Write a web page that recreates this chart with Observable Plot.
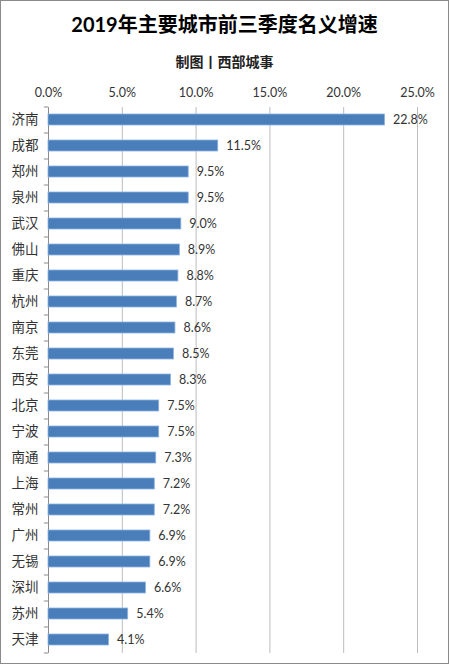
<!DOCTYPE html>
<html><head><meta charset="utf-8">
<script src="https://cdn.jsdelivr.net/npm/d3@7"></script>
<script src="https://cdn.jsdelivr.net/npm/@observablehq/plot@0.6"></script>
<style>
body{margin:0;background:#fff;}
#wrap{width:449px;height:664px;box-sizing:border-box;border:1px solid #8a8a8a;font-family:Lato,"Noto Sans CJK SC",sans-serif;overflow:hidden;}
#title{height:43px;padding-top:3px;line-height:40px;text-align:center;font-weight:bold;font-size:20px;color:#000;}
#sub{height:31px;line-height:30px;text-align:center;font-weight:bold;font-size:14px;color:#222;}
#chart svg{display:block;}
</style></head>
<body><div id="wrap"><div id="title">2019年主要城市前三季度名义增速</div><div id="sub">制图丨西部城事</div><div id="chart"></div></div>
<script>
const cities = ["济南","成都","郑州","泉州","武汉","佛山","重庆","杭州","南京","东莞","西安","北京","宁波","南通","上海","常州","广州","无锡","深圳","苏州","天津"];
const values = [22.8,11.5,9.5,9.5,9.0,8.9,8.8,8.7,8.6,8.5,8.3,7.5,7.5,7.3,7.2,7.2,6.9,6.9,6.6,5.4,4.1];
const xTicks = [0,5,10,15,20,25];
const data = cities.map((c,i)=>({city:c, value:values[i]}));

const W = 447, H = 582, mt = 29, mb = 7;
const step = (H - mt - mb) / cities.length;
const fmt = d => d.toFixed(1) + "%";

const chart = Plot.plot({
  width: W, height: H,
  marginLeft: 47, marginRight: 31, marginTop: mt, marginBottom: mb,
  style: {fontFamily: 'Lato,"Noto Sans CJK SC",sans-serif', background: "#fff"},
  x: {domain: [0, 25], axis: null},
  y: {domain: cities, paddingInner: 0.57, paddingOuter: 0.285, axis: null},
  marks: [
    Plot.ruleX(xTicks.slice(1), {stroke: "#bdbdbd", strokeWidth: 1}),
    Plot.ruleX([0], {stroke: "#8c8c8c", strokeWidth: 1}),
    Plot.ruleY(cities, {y: d => d, x1: -0.28, x2: 0, dy: -step/2, stroke: "#8c8c8c"}),
    Plot.ruleY([cities[cities.length-1]], {y: d => d, x1: -0.28, x2: 0, dy: step/2, stroke: "#8c8c8c"}),
    Plot.barX(data, {x: "value", y: "city", fill: "#4a7ebb", stroke: "#8db3e2", strokeWidth: 0.8}),
    Plot.text(data, {x: "value", y: "city", text: d => fmt(d.value), dx: 8, textAnchor: "start", fontSize: 12.5, fill: "#333"}),
    Plot.axisX({anchor: "top", ticks: xTicks, tickFormat: fmt, tickSize: 0, tickPadding: 11, fontSize: 12.5, fill: "#333", label: null}),
    Plot.axisY({tickSize: 0, tickPadding: 10, fontSize: 13.5, fill: "#333", label: null})
  ]
});
document.getElementById("chart").appendChild(chart);
</script></body></html>
